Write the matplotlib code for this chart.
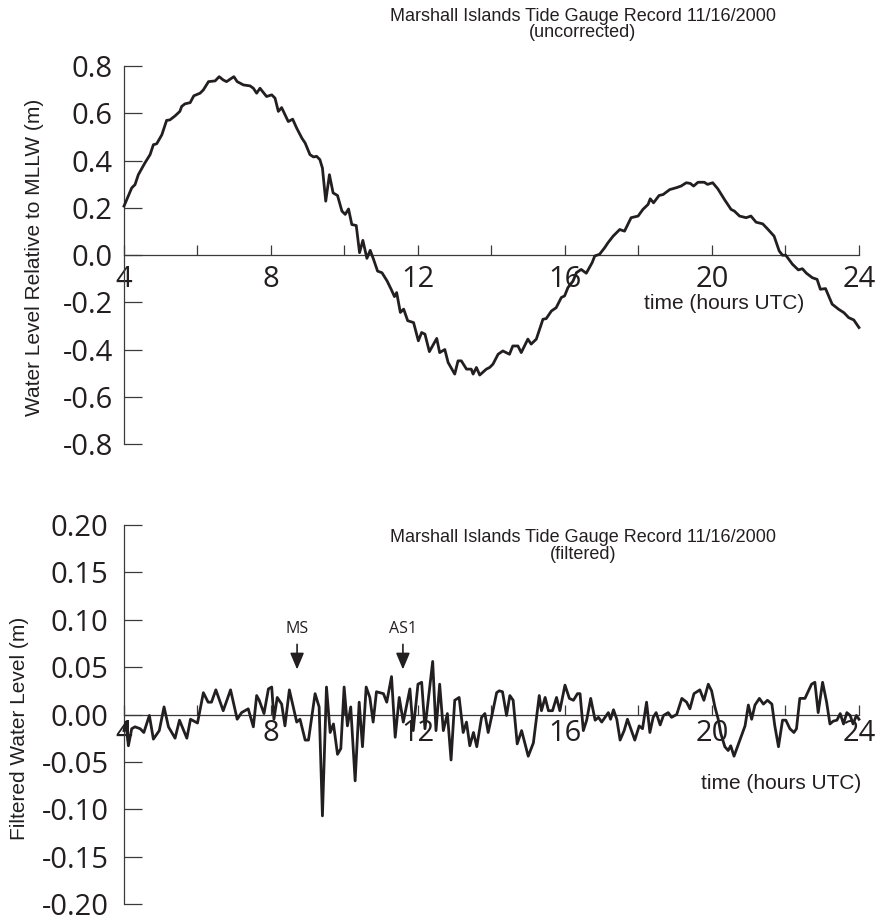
"""Marshall Islands tide gauge record, 11/16/2000: raw and filtered water level."""

import matplotlib

matplotlib.use("Agg")
import matplotlib.pyplot as plt

# uncorrected record (hours UTC, metres relative to MLLW)
TOP_TIME = [
    4.00, 4.21, 4.30, 4.39, 4.57, 4.71, 4.80, 4.89, 5.03, 5.16, 5.25, 5.39, 5.52, 5.57,
    5.66, 5.80, 5.90, 6.07, 6.16, 6.30, 6.48, 6.59, 6.70, 6.79, 6.99, 7.08, 7.25, 7.43,
    7.52, 7.61, 7.70, 7.88, 8.02, 8.11, 8.20, 8.29, 8.47, 8.59, 8.70, 8.84, 8.93, 9.06,
    9.16, 9.24, 9.33, 9.40, 9.49, 9.59, 9.69, 9.81, 9.93, 10.02, 10.11, 10.20, 10.32,
    10.41, 10.50, 10.61, 10.70, 10.79, 10.90, 11.02, 11.16, 11.27, 11.36, 11.42, 11.52,
    11.61, 11.72, 11.88, 12.01, 12.10, 12.19, 12.31, 12.51, 12.59, 12.73, 12.82, 13.00,
    13.09, 13.18, 13.32, 13.45, 13.50, 13.59, 13.68, 13.86, 13.95, 14.04, 14.18, 14.31,
    14.49, 14.58, 14.72, 14.81, 14.99, 15.08, 15.22, 15.40, 15.49, 15.63, 15.76, 15.90,
    15.99, 16.08, 16.22, 16.31, 16.44, 16.58, 16.74, 16.81, 16.94, 17.08, 17.17, 17.31,
    17.49, 17.62, 17.80, 17.99, 18.12, 18.26, 18.32, 18.41, 18.56, 18.67, 18.85, 19.03,
    19.16, 19.30, 19.41, 19.50, 19.62, 19.79, 19.88, 20.02, 20.16, 20.34, 20.52, 20.61,
    20.75, 20.93, 21.06, 21.20, 21.38, 21.51, 21.69, 21.83, 21.92, 22.01, 22.19, 22.35,
    22.46, 22.57, 22.73, 22.86, 22.95, 23.09, 23.27, 23.45, 23.59, 23.72, 23.86, 24.00,
]
TOP_LEVEL = [
    0.207, 0.284, 0.298, 0.340, 0.390, 0.425, 0.467, 0.471, 0.509, 0.570, 0.572, 0.589,
    0.608, 0.629, 0.640, 0.645, 0.674, 0.685, 0.699, 0.734, 0.737, 0.755, 0.741, 0.734,
    0.755, 0.734, 0.720, 0.716, 0.706, 0.685, 0.706, 0.671, 0.678, 0.664, 0.608, 0.624,
    0.565, 0.575, 0.537, 0.495, 0.474, 0.425, 0.415, 0.418, 0.404, 0.368, 0.228, 0.340,
    0.263, 0.252, 0.186, 0.172, 0.195, 0.129, 0.125, 0.010, 0.062, -0.014, 0.020, -0.018,
    -0.068, -0.075, -0.110, -0.145, -0.176, -0.159, -0.243, -0.229, -0.278, -0.286,
    -0.363, -0.328, -0.335, -0.409, -0.353, -0.413, -0.400, -0.455, -0.504, -0.448,
    -0.448, -0.483, -0.483, -0.504, -0.476, -0.508, -0.483, -0.476, -0.462, -0.420,
    -0.406, -0.420, -0.385, -0.385, -0.413, -0.356, -0.377, -0.356, -0.272, -0.269,
    -0.237, -0.223, -0.180, -0.173, -0.138, -0.110, -0.075, -0.061, -0.077, -0.032,
    -0.004, 0.003, 0.031, 0.052, 0.080, 0.108, 0.101, 0.158, 0.165, 0.193, 0.214, 0.238,
    0.221, 0.252, 0.256, 0.277, 0.285, 0.292, 0.306, 0.303, 0.292, 0.308, 0.308, 0.299,
    0.306, 0.280, 0.235, 0.193, 0.186, 0.165, 0.158, 0.165, 0.139, 0.132, 0.111, 0.080,
    0.017, -0.001, -0.001, -0.039, -0.063, -0.058, -0.077, -0.096, -0.103, -0.145,
    -0.142, -0.208, -0.230, -0.244, -0.265, -0.275, -0.307,
]

# filtered record
BOTTOM_TIME = [
    4.00, 4.05, 4.12, 4.21, 4.30, 4.44, 4.54, 4.69, 4.80, 4.96, 5.09, 5.21, 5.39, 5.51,
    5.71, 5.81, 6.00, 6.16, 6.29, 6.38, 6.50, 6.70, 6.90, 7.08, 7.20, 7.38, 7.52, 7.61,
    7.68, 7.81, 7.93, 8.02, 8.08, 8.17, 8.29, 8.38, 8.50, 8.70, 8.79, 8.93, 9.02, 9.20,
    9.31, 9.40, 9.51, 9.61, 9.70, 9.81, 9.90, 9.99, 10.08, 10.17, 10.29, 10.40, 10.49,
    10.59, 10.69, 10.78, 10.87, 11.06, 11.15, 11.28, 11.38, 11.49, 11.60, 11.78, 11.87,
    12.00, 12.10, 12.19, 12.40, 12.49, 12.59, 12.69, 12.80, 12.90, 13.00, 13.12, 13.23,
    13.32, 13.41, 13.51, 13.60, 13.73, 13.82, 13.91, 14.05, 14.14, 14.21, 14.30, 14.41,
    14.50, 14.59, 14.70, 14.82, 15.00, 15.14, 15.30, 15.36, 15.46, 15.55, 15.66, 15.77,
    15.86, 16.00, 16.12, 16.23, 16.34, 16.41, 16.50, 16.59, 16.70, 16.82, 16.91, 17.00,
    17.09, 17.18, 17.24, 17.32, 17.41, 17.50, 17.61, 17.70, 17.81, 17.90, 18.02, 18.11,
    18.22, 18.31, 18.40, 18.48, 18.59, 18.68, 18.81, 18.90, 19.04, 19.18, 19.31, 19.40,
    19.51, 19.67, 19.78, 19.90, 19.99, 20.08, 20.17, 20.24, 20.35, 20.44, 20.51, 20.60,
    20.74, 20.90, 20.99, 21.08, 21.17, 21.29, 21.40, 21.51, 21.63, 21.71, 21.81, 21.92,
    22.01, 22.12, 22.23, 22.30, 22.39, 22.53, 22.65, 22.71, 22.80, 22.89, 23.01, 23.12,
    23.21, 23.30, 23.40, 23.49, 23.58, 23.67, 23.76, 23.84, 23.93, 24.00,
]
BOTTOM_LEVEL = [
    -0.017, -0.008, -0.033, -0.015, -0.013, -0.015, -0.019, -0.001, -0.026, -0.017,
    0.008, -0.013, -0.025, -0.006, -0.025, -0.005, -0.009, 0.023, 0.013, 0.013, 0.026,
    0.004, 0.026, -0.005, 0.002, 0.006, -0.013, 0.020, 0.015, 0.001, 0.027, 0.029,
    -0.005, 0.018, 0.011, -0.012, 0.026, -0.008, -0.005, -0.027, -0.027, 0.022, 0.008,
    -0.107, 0.029, -0.019, -0.010, -0.042, -0.036, 0.029, -0.012, 0.008, -0.070, 0.013,
    -0.034, 0.029, 0.018, -0.008, 0.024, 0.022, 0.013, 0.040, -0.024, 0.018, -0.008,
    0.027, -0.017, 0.032, 0.034, -0.015, 0.056, -0.017, 0.032, -0.017, 0.001, -0.048,
    0.015, 0.018, -0.019, -0.008, -0.033, -0.019, -0.034, -0.003, 0.001, -0.019, 0.006,
    0.023, 0.025, 0.024, -0.001, 0.020, 0.015, -0.031, -0.017, -0.044, -0.030, 0.020,
    0.004, 0.018, 0.004, 0.004, 0.018, 0.004, 0.031, 0.017, 0.015, 0.022, 0.022, -0.017,
    -0.006, 0.017, -0.006, -0.003, -0.008, -0.003, 0.002, -0.005, 0.005, -0.005, -0.027,
    -0.017, -0.005, -0.017, -0.027, -0.012, -0.015, 0.013, -0.019, -0.003, 0.002,
    -0.011, -0.001, 0.002, -0.003, 0.000, 0.017, 0.013, 0.006, 0.022, 0.026, 0.015,
    0.032, 0.025, 0.008, -0.005, -0.020, -0.034, -0.038, -0.033, -0.044, -0.029, -0.012,
    0.010, -0.005, 0.010, 0.017, 0.011, 0.015, 0.011, -0.012, -0.034, -0.006, -0.006,
    -0.015, -0.019, -0.015, 0.017, 0.017, 0.027, 0.032, 0.034, 0.002, 0.034, 0.013,
    -0.010, -0.007, -0.006, 0.001, -0.010, 0.002, -0.001, -0.010, -0.001, -0.005,
]

X_MAJOR = [4, 8, 12, 16, 20, 24]
X_MINOR = [6, 10, 14, 18, 22]
TOP_YTICKS = [-0.8, -0.6, -0.4, -0.2, 0.0, 0.2, 0.4, 0.6, 0.8]
TOP_YLABELS = ["-0.8", "-0.6", "-0.4", "-0.2", "0.0", "0.2", "0.4", "0.6", "0.8"]
BOTTOM_YTICKS = [-0.20, -0.15, -0.10, -0.05, 0.00, 0.05, 0.10, 0.15, 0.20]
BOTTOM_YLABELS = ["-0.20", "-0.15", "-0.10", "-0.05", "0.00", "0.05", "0.10", "0.15", "0.20"]

# earthquake markers on the filtered record
EVENT_NAMES = ["MS", "AS1"]
EVENT_TIMES = [8.71, 11.59]

TITLE = "Marshall Islands Tide Gauge Record 11/16/2000"
INK = "#231f20"
AXIS = "#3a3a3a"
TICK_FONT = "Open Sans"
TEXT_FONT = "Liberation Sans"


def style_axis(ax, yticks, ylabels, ypad, xpad):
    ax.set_xlim(X_MAJOR[0], X_MAJOR[-1])
    ax.set_ylim(yticks[0], yticks[-1])
    ax.patch.set_visible(False)
    for side in ("top", "right"):
        ax.spines[side].set_visible(False)
    ax.spines["bottom"].set_position(("data", 0))
    for side in ("left", "bottom"):
        ax.spines[side].set_color(AXIS)
        ax.spines[side].set_linewidth(0.9)
    ax.set_xticks(X_MAJOR)
    ax.set_xticklabels([str(v) for v in X_MAJOR])
    ax.set_xticks(X_MINOR, minor=True)
    ax.set_yticks(yticks)
    ax.set_yticklabels(ylabels)
    ax.tick_params(axis="x", which="both", direction="in", length=7, width=0.9,
                   color=AXIS, pad=xpad, labelsize=21, labelcolor=INK)
    ax.tick_params(axis="y", direction="in", length=13, width=0.9,
                   color=AXIS, pad=ypad, labelsize=21, labelcolor=INK)
    for label in ax.get_xticklabels() + ax.get_yticklabels():
        label.set_fontfamily(TICK_FONT)


fig = plt.figure(figsize=(8.8, 9.21), dpi=100)
ax_top = fig.add_axes([0.1409, 0.5179, 0.8352, 0.4104])
ax_bot = fig.add_axes([0.1409, 0.01846, 0.8352, 0.4115])

style_axis(ax_top, TOP_YTICKS, TOP_YLABELS, ypad=8, xpad=7)
style_axis(ax_bot, BOTTOM_YTICKS, BOTTOM_YLABELS, ypad=11, xpad=3.4)

ax_top.plot(TOP_TIME, TOP_LEVEL, color=INK, lw=2.0, clip_on=False, zorder=3)
ax_bot.plot(BOTTOM_TIME, BOTTOM_LEVEL, color=INK, lw=2.0, clip_on=False, zorder=3)

# titles
fig.text(0.6625, 0.9826, TITLE, ha="center", va="center", fontsize=13,
         family=TEXT_FONT, color=INK)
fig.text(0.6625, 0.9642, "(uncorrected)", ha="center", va="center", fontsize=13,
         family=TEXT_FONT, color=INK)
fig.text(0.6625, 0.4159, TITLE, ha="center", va="center", fontsize=13,
         family=TEXT_FONT, color=INK)
fig.text(0.6625, 0.3974, "(filtered)", ha="center", va="center", fontsize=13,
         family=TEXT_FONT, color=INK)

# axis labels
ax_top.text(-0.1211, 0.4947, "Water Level Relative to MLLW (m)", transform=ax_top.transAxes,
            rotation=90, ha="center", va="center", fontsize=15, family=TEXT_FONT, color=INK)
ax_bot.text(-0.1415, 0.4644, "Filtered Water Level (m)", transform=ax_bot.transAxes,
            rotation=90, ha="center", va="center", fontsize=15, family=TEXT_FONT, color=INK)
ax_top.text(20.32, -0.207, "time (hours UTC)", ha="center", va="center", fontsize=15,
            family=TEXT_FONT, color=INK)
ax_bot.text(21.87, -0.0729, "time (hours UTC)", ha="center", va="center", fontsize=15,
            family=TEXT_FONT, color=INK)

for name, t in zip(EVENT_NAMES, EVENT_TIMES):
    ax_bot.annotate(name, xy=(t, 0.0475), xytext=(t, 0.0898), ha="center", va="center",
                    fontsize=11.5, family=TICK_FONT, color=INK,
                    arrowprops=dict(arrowstyle="-|>,head_length=1.0,head_width=0.42",
                                    color=INK, lw=1.2, shrinkA=3, shrinkB=0,
                                    mutation_scale=10))

fig.savefig("out.png", dpi=100)
